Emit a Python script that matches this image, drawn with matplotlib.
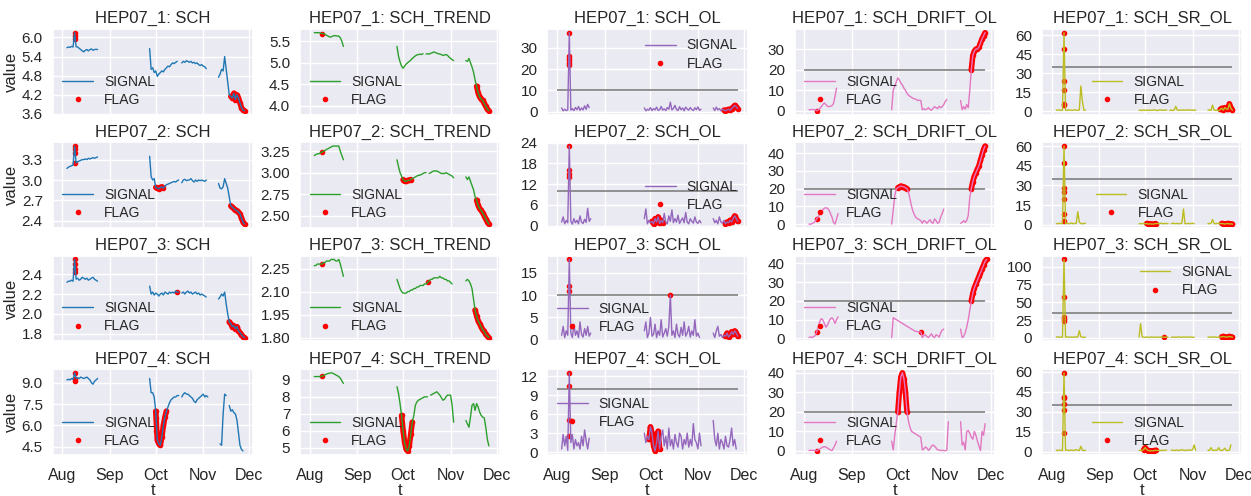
# Grade 4x5: para cada sonda HEP07_n, o sinal bruto, a tendência e os três
# detectores de outlier, com os pontos marcados (FLAG) em vermelho.

import numpy as np
import matplotlib
matplotlib.use("Agg")
import matplotlib.pyplot as plt
import matplotlib.dates as mdates
import seaborn as sns

nan = np.nan

BASE_DAY = "2023-08-01"
SEG_START = [3, 57, 102]          # dia (desde 1/ago) em que cada trecho começa
THRESH_SPAN = (0, 118)            # trecho coberto pela linha de limiar

ROWS = ["HEP07_1", "HEP07_2", "HEP07_3", "HEP07_4"]
COLS = ["SCH", "SCH_TREND", "SCH_OL", "SCH_DRIFT_OL", "SCH_SR_OL"]
COLORS = ["tab:blue", "tab:green", "tab:purple", "tab:pink", "tab:olive"]
THRESH = [None, None, 10, 20, 35]

# ---------------- HEP07_1 ----------------
SCH_1 = (
    [5.68, 5.70, 5.69, 5.72, 5.70, 6.15, 5.71, 5.70, 5.66, 5.62, 5.58, 5.55, 5.60, 5.62, 5.58,
     5.62, 5.64, 5.60, 5.62, 5.63, 5.62],
    [5.65, 5.00, 5.05, 4.90, 4.95, 4.78, 4.85, 4.90, 4.95, 4.92, 5.00, 5.05, 5.10, 5.08, 5.15,
     5.20, 5.18, 5.22, 5.25, nan, nan, 5.20, 5.25, 5.22, 5.27, 5.25, 5.22, 5.25, 5.20, 5.22,
     5.18, 5.20, 5.15, 5.12, 5.15, 5.10, 5.08, 5.02],
    [4.75, 4.85, 5.00, 4.95, 5.40, 5.00, 4.60, 4.20, 4.15, 4.10, 4.25, 4.05, 4.20, 4.10, 3.95,
     3.80, 3.72, 3.70],
)
SCH_TREND_1 = (
    [5.70, 5.70, 5.70, 5.70, 5.69, 5.68, 5.68, 5.66, 5.64, 5.62, 5.60, 5.60, 5.62, 5.63, 5.63,
     5.62, 5.62, 5.58, 5.50, 5.38],
    [5.38, 5.15, 5.02, 4.92, 4.87, 4.92, 4.97, 5.00, 5.03, 5.06, 5.10, 5.13, 5.16, 5.18, 5.19,
     5.20, 5.19, 5.21, nan, 5.20, 5.21, 5.20, 5.22, 5.23, 5.25, 5.24, 5.22, 5.21, 5.20, 5.19,
     5.17, 5.18, 5.19, 5.17, 5.13, 5.10, 5.07, 5.05],
    [5.05, 5.03, 5.10, 5.00, 4.90, 4.78, 4.60, 4.45, 4.30, 4.20, 4.15, 4.12, 4.05, 3.98, 3.92,
     3.88],
)
SCH_OL_1 = (
    [1.8, 0.5, 1.2, 0.6, 0.9, 37.0, 0.8, 1.5, 0.6, 2.0, 1.0, 2.5, 0.7, 1.8, 0.9, 2.8, 1.2, 3.5,
     2.0],
    [1.8, 0.5, 1.2, 0.8, 2.0, 0.6, 1.5, 0.9, 2.2, 0.7, 1.0, 2.5, 0.8, 1.4, 0.6, 2.0, 1.2, 4.5,
     0.9, 1.6, 3.0, 1.1, 0.6, 2.4, 1.0, 1.8, 0.5, 2.2, 1.3, 0.8, 2.0, 1.1, 0.6, 1.9, 1.0, 2.3,
     0.7, 1.2],
    [1.8, 0.6, 2.2, 0.9, 1.5, 0.5, 1.2, 0.8, 0.5, 0.9, 1.2, 0.7, 1.5, 2.2, 3.0, 2.4, 1.5],
)
SCH_DRIFT_OL_1 = (
    [0.5, 0.5, 0.6, 0.5, 0.6, 0.0, 0.4, 1.0, 2.0, 3.0, 3.8, 3.0, 2.2, 2.0, 2.2, 2.5, 3.5, 7.0,
     11.0],
    [0.5, 10.0, 12.0, 14.0, 16.0, 15.0, 13.5, 12.5, 11.0, 10.0, 8.5, 7.5, 7.0, 6.5, 6.0, 5.8,
     5.5, 5.0, 5.2, 5.0, 0.5, 1.0, 0.5, 0.8, 1.5, 0.6, 0.3, 1.2, 2.0, 1.5, 1.0, 2.2, 1.5, 2.0,
     3.0, 4.5, 5.5],
    [5.0, 0.5, 2.0, 0.8, 3.0, 1.5, 10.0, 20.0, 27.0, 29.0, 30.0, 30.0, 31.0, 33.0, 35.0, 36.5,
     38.0],
)
SCH_SR_OL_1 = (
    [1.0, 1.0, 1.2, 0.8, 1.0, 62.0, 1.0, 0.8, 1.2, 1.0, 0.8, 1.0, 1.2, 1.0, 0.8, 1.2, 20.0, 8.0,
     1.0, 1.0],
    [0.8, 1.0, 0.6, 1.2, 0.9, 1.0, 0.7, 1.1, 0.8, 1.0, 1.3, 0.9, 0.6, 1.0, 1.2, 0.8, 1.0, 0.9,
     1.1, nan, 0.8, 1.0, 0.7, 1.2, 4.0, 1.0, 0.8, 1.1, 0.9, 1.2, 1.0, 0.8, 1.3, 1.0, 0.9, 1.1,
     1.0, 0.8],
    [1.0, 1.2, 0.8, 5.0, 1.0, 0.8, 1.0, 0.5, 1.5, 2.5, 1.0, 3.0, 2.0, 1.5, 6.0, 2.5, 1.0],
)

# ---------------- HEP07_2 ----------------
SCH_2 = (
    [3.17, 3.19, 3.20, 3.21, 3.22, 3.50, 3.25, 3.27, 3.28, 3.29, 3.30, 3.30, 3.31, 3.30, 3.32,
     3.31, 3.32, 3.33, 3.32, 3.33, 3.34],
    [3.35, 3.05, 3.00, 3.02, 2.89, 2.88, 2.87, 2.89, 2.90, 2.88, 2.91, 2.93, 2.94, 2.95, 2.96,
     2.97, 2.98, 2.97, 2.99, 3.00, nan, 2.96, 3.00, 3.01, 2.99, 3.00, 3.00, 3.02, 2.99, 2.97,
     3.00, 2.98, 3.00, 2.99, 3.00, 2.99, 2.98, 3.00],
    [2.95, 2.88, 2.87, 2.90, 3.02, 2.95, 2.88, 2.75, 2.62, 2.60, 2.58, 2.56, 2.55, 2.53, 2.50,
     2.44, 2.38, 2.35],
)
SCH_TREND_2 = (
    [3.20, 3.21, 3.22, 3.22, 3.23, 3.24, 3.25, 3.26, 3.27, 3.28, 3.29, 3.30, 3.31, 3.31, 3.31,
     3.31, 3.31, 3.25, 3.20, 3.15],
    [3.15, 3.07, 3.00, 2.96, 2.92, 2.90, 2.90, 2.91, 2.91, 2.92, 2.93, 2.94, 2.95, 2.96, 2.97,
     2.97, 2.98, 2.99, 3.00, 3.00, nan, 2.99, 3.00, 3.01, 3.02, 3.02, 3.02, 3.01, 3.00, 2.99,
     2.99, 2.99, 3.00, 2.99, 2.98, 2.97, 2.96, 2.94],
    [2.95, 2.92, 2.95, 2.90, 2.85, 2.80, 2.72, 2.68, 2.62, 2.58, 2.56, 2.53, 2.50, 2.46, 2.43,
     2.40],
)
SCH_OL_2 = (
    [1.0, 2.5, 0.5, 1.5, 0.8, 23.0, 1.2, 0.4, 2.0, 0.8, 1.5, 0.5, 2.8, 1.0, 0.6, 1.8, 0.9, 5.0,
     1.2, 2.0],
    [2.0, 4.8, 0.5, 1.5, 0.8, 1.2, 0.5, 2.0, 1.0, 2.5, 0.6, 1.5, 0.8, 3.5, 1.0, 0.5, 2.8, 1.2,
     4.5, 0.8, 2.0, 1.0, 3.0, 0.6, 1.5, 2.2, 0.8, 3.8, 1.0, 0.5, 2.0, 1.2, 0.7, 2.5, 1.0, 0.6,
     1.5, 0.8],
    [2.0, 0.8, 1.5, 0.5, 2.5, 1.0, 0.7, 1.5, 0.5, 1.0, 0.8, 1.5, 1.0, 2.0, 2.8, 2.0, 1.2],
)
SCH_DRIFT_OL_2 = (
    [0.0, 0.0, 0.3, 0.8, 1.5, 3.0, 4.0, 5.5, 7.0, 8.0, 9.0, 9.2, 9.0, 8.0, 6.0, 4.0, 1.0, 0.0,
     3.0, 6.0],
    [0.0, 8.0, 16.0, 20.0, 20.5, 21.0, 21.5, 21.2, 21.0, 20.5, 20.0, 18.0, 14.0, 10.0, 7.0, 5.0,
     3.5, 3.0, 2.5, 2.0, 0.5, 2.0, 1.5, 0.5, 1.5, 2.5, 1.0, 0.5, 3.0, 2.0, 0.5, 1.0, 4.0, 6.0,
     8.5],
    [0.5, 1.0, 2.0, 1.0, 2.0, 5.0, 15.0, 20.0, 24.0, 27.0, 29.0, 31.0, 33.0, 36.0, 39.0, 42.0,
     44.0],
)
SCH_SR_OL_2 = (
    [1.0, 0.8, 1.2, 1.0, 0.8, 60.0, 1.0, 1.2, 0.8, 1.0, 1.5, 0.8, 1.0, 1.2, 10.0, 2.0, 1.0, 0.8,
     1.0, 1.2],
    [0.8, 1.0, 0.6, 1.2, 0.8, 1.0, 0.5, 0.8, 0.6, 0.5, 0.7, 0.9, 1.0, 0.8, 1.2, 1.0, 0.8, 1.1,
     0.9, 1.0, nan, 0.8, 1.2, 1.0, 0.9, 1.1, 0.8, 1.0, 1.3, 12.0, 1.0, 0.8, 1.1, 0.9, 1.0, 1.2,
     0.8],
    [1.0, 0.8, 1.2, 4.0, 1.0, 0.8, 1.0, 1.2, 0.8, 1.0, 0.8, 0.5, 0.8, 1.0, 0.6, 0.8, 0.5],
)

# ---------------- HEP07_3 ----------------
SCH_3 = (
    [2.32, 2.33, 2.33, 2.34, 2.33, 2.55, 2.35, 2.36, 2.34, 2.35, 2.37, 2.36, 2.35, 2.36, 2.34,
     2.35, 2.36, 2.37, 2.35, 2.34, 2.33],
    [2.28, 2.20, 2.22, 2.19, 2.21, 2.20, 2.18, 2.20, 2.21, 2.19, 2.22, 2.21, 2.20, 2.22, 2.21,
     2.22, 2.21, 2.23, 2.22, 2.22, nan, 2.21, 2.22, 2.20, 2.22, 2.23, 2.21, 2.22, 2.20, 2.21,
     2.22, 2.20, 2.21, 2.19, 2.20, 2.19, 2.18, 2.17],
    [2.15, 2.17, 2.20, 2.18, 2.22, 2.10, 2.00, 1.92, 1.90, 1.87, 1.88, 1.85, 1.87, 1.83, 1.81,
     1.79, 1.77, 1.76],
)
SCH_TREND_3 = (
    [2.27, 2.27, 2.28, 2.28, 2.28, 2.28, 2.29, 2.29, 2.30, 2.30, 2.30, 2.31, 2.31, 2.31, 2.30,
     2.30, 2.31, 2.28, 2.24, 2.20],
    [2.18, 2.15, 2.12, 2.10, 2.09, 2.09, 2.09, 2.10, 2.10, 2.11, 2.11, 2.12, 2.12, 2.13, 2.13,
     2.14, 2.14, 2.14, 2.15, 2.15, 2.16, 2.17, 2.18, 2.18, 2.19, 2.19, 2.19, 2.19, 2.20, 2.19,
     2.19, 2.18, 2.18, 2.17, 2.17, 2.16, 2.15],
    [2.17, 2.18, 2.17, 2.15, 2.12, 2.05, 1.98, 1.94, 1.91, 1.89, 1.87, 1.85, 1.84, 1.82, 1.81,
     1.80],
)
SCH_OL_3 = (
    [1.0, 3.0, 0.5, 2.0, 1.0, 18.0, 1.5, 0.5, 3.5, 1.0, 2.0, 0.5, 4.0, 1.2, 0.6, 2.5, 1.0, 3.0,
     0.8, 1.5],
    [2.0, 4.0, 0.5, 1.5, 5.0, 0.8, 1.2, 3.5, 0.5, 2.0, 1.0, 4.5, 0.6, 1.5, 2.5, 0.8, 3.0, 10.0,
     1.0, 2.0, 0.5, 3.5, 1.2, 0.6, 2.8, 1.0, 4.0, 0.8, 1.5, 3.0, 0.6, 2.0, 1.0, 4.5, 0.8, 1.5,
     0.5],
    [1.5, 0.5, 2.0, 3.0, 0.8, 1.2, 0.5, 1.0, 0.8, 1.5, 0.6, 1.0, 1.8, 1.2, 2.0, 1.5, 0.8],
)
SCH_DRIFT_OL_3 = (
    [0.5, 0.8, 0.5, 1.0, 1.5, 3.5, 6.0, 9.0, 10.5, 10.0, 8.0, 6.0, 7.0, 9.0, 10.5, 11.0, 10.0,
     8.0, 10.0, 11.5],
    [0.5, 11.0, 10.5, 10.0, 9.5, 9.0, 8.5, 8.0, 7.5, 7.0, 6.5, 6.0, 5.5, 5.0, 4.5, 4.0, 3.8,
     3.6, 3.5, 3.5, 0.5, 1.5, 2.0, 1.0, 0.5, 1.5, 2.5, 1.0, 0.5, 2.0, 1.5, 0.8, 3.0, 4.5, 5.0],
    [5.0, 0.5, 1.0, 3.0, 6.0, 10.0, 15.0, 20.0, 24.0, 27.0, 29.0, 31.0, 33.0, 35.0, 37.0, 39.0,
     41.0, 42.0],
)
SCH_SR_OL_3 = (
    [1.0, 1.5, 0.8, 1.2, 1.0, 110.0, 1.0, 1.5, 0.8, 1.2, 1.0, 0.8, 1.5, 1.0, 1.2, 10.0, 1.5,
     1.0, 0.8, 1.0],
    [1.0, 20.0, 1.5, 1.0, 0.8, 1.2, 1.0, 0.5, 1.5, 1.0, 0.8, 1.2, 1.0, 0.8, 1.0, 1.5, 1.0, 0.8,
     1.2, 1.0, nan, 0.8, 1.0, 1.2, 0.8, 1.0, 1.5, 1.0, 0.8, 1.2, 1.0, 0.8, 1.5, 1.0, 1.2, 0.8,
     1.0],
    [1.0, 1.2, 0.8, 1.0, 1.5, 1.0, 0.8, 1.2, 1.0, 1.5, 2.0, 1.5, 1.0, 1.5, 2.0, 1.5, 1.0],
)

# ---------------- HEP07_4 ----------------
SCH_4 = (
    [9.20, 9.25, 9.20, 9.30, 9.25, 9.70, 9.30, 9.35, 9.30, 9.40, 9.35, 9.30, 9.35, 9.40, 9.30,
     9.20, 9.00, 8.90, 9.10, 9.20, 9.30],
    [9.3, 8.3, 8.3, 8.0, 7.0, 5.0, 4.7, 4.6, 5.2, 6.0, 6.6, 7.0, 7.3, 7.6, 7.8, 7.9, 8.0, 8.0,
     8.1, 8.1, nan, 8.0, 8.2, 8.3, 8.2, 8.2, 8.1, 8.0, 7.9, 7.7, 7.6, 7.8, 7.9, 8.0, 8.1, 8.2,
     8.0, 8.1, 8.0],
    [nan, 4.7, 4.6, 6.8, 8.2, 8.1, nan, 7.4, 7.0, 7.1, 6.9, 6.8, 6.4, 5.5, 4.6, 4.3, 4.2],
)
SCH_TREND_4 = (
    [9.20, 9.20, 9.20, 9.20, 9.20, 9.22, 9.25, 9.30, 9.35, 9.38, 9.40, 9.42, 9.40, 9.35, 9.30,
     9.25, 9.20, 9.10, 8.95, 8.80],
    [8.6, 8.2, 7.6, 6.9, 6.0, 5.3, 4.9, 4.8, 5.1, 5.8, 6.5, 6.9, 7.5, 7.7, 7.8, 7.85, 7.9,
     7.95, 8.0, 8.0, 8.0, nan, 8.1, 8.15, 8.2, 8.25, 8.3, 8.2, 8.1, 7.95, 7.8, 7.85, 8.0, 8.1,
     8.1, 8.1, 7.5, 6.5],
    [6.6, 6.4, 6.2, 6.8, 7.5, 7.6, 7.2, 7.6, 7.4, 7.1, 6.9, 6.8, 6.75, 6.2, 5.5, 5.1],
)
SCH_OL_4 = (
    [0.5, 2.8, 1.0, 2.5, 0.3, 12.5, 1.5, 2.8, 0.5, 2.0, 1.0, 1.5, 0.5, 2.5, 1.0, 3.5, 1.8, 0.5,
     2.2],
    [3.0, 1.5, 2.5, 2.0, 4.0, 3.0, 1.0, 0.2, 1.5, 3.3, 0.5, 2.5, 3.5, 1.0, 2.5, 0.5, 3.8, 1.0,
     2.0, 0.5, 2.8, 1.5, 0.8, 3.0, 2.5, 0.5, 2.0, 1.2, 3.0, 0.8, 2.0, 1.0, 4.5, 2.0, 1.5, 0.5,
     3.0, 1.0],
    [5.0, 2.0, 1.0, 3.0, 0.5, 2.0, 1.5, 0.5, 2.5, 1.0, 0.8, 2.0, 3.8, 1.0, 2.0, 0.5],
)
SCH_DRIFT_OL_4 = (
    [0.2, 0.3, 0.3, 0.2, 0.3, 0.0, 0.5, 1.0, 1.5, 2.0, 2.2, 2.0, 1.5, 1.0, 0.5, 0.2, 1.5, 3.0,
     5.0],
    [5.0, 0.5, 8.0, 14.0, 20.0, 30.0, 38.0, 40.0, 37.0, 30.0, 20.0, 15.0, 12.0, 10.0, 9.5, 9.0,
     8.5, 8.0, 7.5, 7.0, 0.5, 1.0, 2.0, 1.5, 0.3, 1.0, 2.5, 3.0, 2.5, 1.5, 0.5, 0.5, 0.2, 0.3,
     0.2, 0.1, 0.5, 15.0],
    [15.0, 3.0, 4.5, 0.5, 10.0, 10.5, 9.0, 7.0, 6.0, 10.0, 8.0, 5.0, 2.5, 0.2, 10.0, 8.0, 14.0],
)
SCH_SR_OL_4 = (
    [1.0, 0.8, 1.2, 1.0, 0.8, 59.0, 1.0, 1.2, 0.8, 1.0, 1.2, 0.8, 1.0, 1.5, 1.0, 0.8, 4.0, 1.0,
     0.8, 1.0],
    [0.8, 1.0, 0.8, 1.5, 3.0, 1.5, 0.8, 0.5, 0.6, 0.5, 0.8, 1.0, 0.8, 1.0, 0.8, 1.0, 0.8, 1.0,
     1.2, nan, nan, 1.0, 1.2, 0.8, 1.0, 1.2, 0.8, 1.0, 1.5, 1.0, 0.8, 1.2, 1.0, 1.2, 1.0, 1.5,
     5.0, 1.0],
    [1.0, 0.8, 3.0, 1.0, 0.8, 1.2, 1.0, 3.0, 1.0, 0.8, 1.2, 2.5, 1.0, 0.8, 1.0, 5.0],
)

DATA = [
    [SCH_1, SCH_TREND_1, SCH_OL_1, SCH_DRIFT_OL_1, SCH_SR_OL_1],
    [SCH_2, SCH_TREND_2, SCH_OL_2, SCH_DRIFT_OL_2, SCH_SR_OL_2],
    [SCH_3, SCH_TREND_3, SCH_OL_3, SCH_DRIFT_OL_3, SCH_SR_OL_3],
    [SCH_4, SCH_TREND_4, SCH_OL_4, SCH_DRIFT_OL_4, SCH_SR_OL_4],
]

# Intervalos de dias marcados (o FLAG cai sobre o próprio sinal)
FLAG_RANGES = [
    [[(110, 119)], [(8, 8), (109, 117)], [(109, 118)], [(8, 8), (109, 118)], [(110, 118)]],
    [[(61, 66), (110, 119)], [(8, 8), (61, 66), (109, 117)], [(62, 69), (110, 118)],
     [(8, 8), (61, 67), (109, 118)], [(62, 68), (111, 118)]],
    [[(75, 75), (109, 119)], [(8, 8), (77, 77), (108, 117)], [(74, 74), (110, 118)],
     [(8, 8), (76, 76), (109, 119)], [(73, 73), (111, 118)]],
    [[(61, 68)], [(8, 8), (60, 67)], [(60, 67)], [(8, 8), (61, 67)], [(60, 68)]],
]

# Pontos marcados soltos ao longo dos picos verticais (dia, valor)
FLAG_POINTS = [
    [[(8, 5.95), (8, 6.05), (8, 6.15)], [],
     [(8, 37), (8, 26), (8, 25), (8, 24), (8, 23), (8, 22)], [],
     [(8, 62), (8, 49), (8, 24), (8, 17), (8, 6), (8, 5)]],
    [[(8, 3.50), (8, 3.45), (8, 3.40), (8, 3.25)], [],
     [(8, 23), (8, 16), (8, 15), (8, 14)], [],
     [(8, 60), (8, 47), (8, 28), (8, 25), (8, 20), (8, 8), (8, 3)]],
    [[(8, 2.55), (8, 2.50), (8, 2.45), (8, 2.42)], [],
     [(8, 18), (8, 12), (8, 11)], [],
     [(8, 110), (8, 58), (8, 30), (8, 27), (8, 24)]],
    [[(8, 9.7), (8, 9.3), (8, 9.1), (61, 6.5), (61, 5.6)], [],
     [(8, 12.5), (8, 10.5), (8, 5.0), (8, 2.5)], [],
     [(8, 59), (8, 41), (8, 40), (8, 36), (8, 31), (8, 14)]],
]

YTICKS = [
    [[3.6, 4.2, 4.8, 5.4, 6.0], [4.0, 4.5, 5.0, 5.5], [0, 10, 20, 30], [0, 10, 20, 30],
     [0, 15, 30, 45, 60]],
    [[2.4, 2.7, 3.0, 3.3], [2.50, 2.75, 3.00, 3.25], [0, 6, 12, 18, 24], [0, 10, 20, 30, 40],
     [0, 15, 30, 45, 60]],
    [[1.8, 2.0, 2.2, 2.4], [1.80, 1.95, 2.10, 2.25], [0, 5, 10, 15], [0, 10, 20, 30, 40],
     [0, 25, 50, 75, 100]],
    [[4.5, 6.0, 7.5, 9.0], [5, 6, 7, 8, 9], [0, 3, 6, 9, 12], [0, 10, 20, 30, 40],
     [0, 15, 30, 45, 60]],
]

# posição da legenda em cada painel
LEGEND_POS = [
    [("center left", (0, 0.28)), ("center left", (0, 0.28)), ("upper right", None),
     ("center left", (0, 0.28)), ("center", (0.48, 0.28))],
    [("center left", (0, 0.28)), ("center left", (0, 0.28)), ("center right", (1, 0.37)),
     ("center left", (0, 0.28)), ("center", (0.5, 0.28))],
    [("center left", (0, 0.28)), ("center left", (0, 0.28)), ("center left", (0, 0.27)),
     ("center left", (0, 0.28)), ("upper right", None)],
    [("center left", (0, 0.27)), ("center left", (0, 0.27)), ("center left", (0, 0.49)),
     ("center left", (0, 0.27)), ("center", (0.48, 0.27))],
]


def build_series(segs):
    # junta os três trechos, com um nan entre eles para quebrar a linha
    t, v = [], []
    for start, vals in zip(SEG_START, segs):
        t += [start + i for i in range(len(vals))] + [start + len(vals)]
        v += list(vals) + [nan]
    return np.array(t, dtype=float), np.array(v, dtype=float)


def main():
    sns.set_theme(style="darkgrid")
    plt.rcParams["font.family"] = ["Liberation Sans", "DejaVu Sans"]

    base = mdates.datestr2num(BASE_DAY)

    fig, axes = plt.subplots(4, 5, figsize=(12.51, 4.96), dpi=100, sharex=True)
    fig.subplots_adjust(left=0.042, right=0.993, top=0.942, bottom=0.083,
                        wspace=0.235, hspace=0.32)

    for r, row_name in enumerate(ROWS):
        for c, col_name in enumerate(COLS):
            ax = axes[r, c]
            t, v = build_series(DATA[r][c])
            x = base + t

            if THRESH[c] is not None:
                ax.hlines(THRESH[c], base + THRESH_SPAN[0], base + THRESH_SPAN[1],
                          color="gray", lw=1.2, zorder=1.5)

            sig, = ax.plot(x, v, color=COLORS[c], lw=1.0, zorder=3, label="SIGNAL")

            # faixas marcadas: linha grossa + bolinhas, para imitar pontos densos
            for a, b in FLAG_RANGES[r][c]:
                m = (t >= a) & (t <= b) & ~np.isnan(v)
                ax.plot(x[m], v[m], color="red", lw=4.0, solid_capstyle="round",
                        zorder=2)
                ax.plot(x[m], v[m], "o", color="red", ms=3.0, zorder=2)

            if FLAG_POINTS[r][c]:
                pd_, pv = zip(*FLAG_POINTS[r][c])
                ax.plot(base + np.array(pd_), pv, "o", color="red", ms=3.0, zorder=2)

            flag_handle, = ax.plot([], [], "o", color="red", ms=3.0, label="FLAG")

            ax.set_yticks(YTICKS[r][c])
            ax.tick_params(axis="y", labelsize=11, pad=1)
            ax.tick_params(axis="x", labelsize=11.5)
            ax.set_title(f"{row_name}: {col_name}", fontsize=12, pad=4)

            loc, anchor = LEGEND_POS[r][c]
            kw = {"bbox_to_anchor": anchor} if anchor is not None else {}
            ax.legend(handles=[sig, flag_handle], loc=loc, frameon=False,
                      fontsize=10, handlelength=2.2, labelspacing=0.3,
                      borderaxespad=0.3, **kw)

            if c == 0:
                ax.set_ylabel("value", fontsize=12, labelpad=2)
            if r == len(ROWS) - 1:
                ax.set_xlabel("t", fontsize=12, labelpad=0)

    ax0 = axes[0, 0]
    ax0.set_xlim(base - 6.4, base + 124.4)
    ax0.xaxis.set_major_locator(mdates.MonthLocator())
    ax0.xaxis.set_major_formatter(mdates.DateFormatter("%b"))

    fig.savefig("out.png", dpi=100)


if __name__ == "__main__":
    main()
